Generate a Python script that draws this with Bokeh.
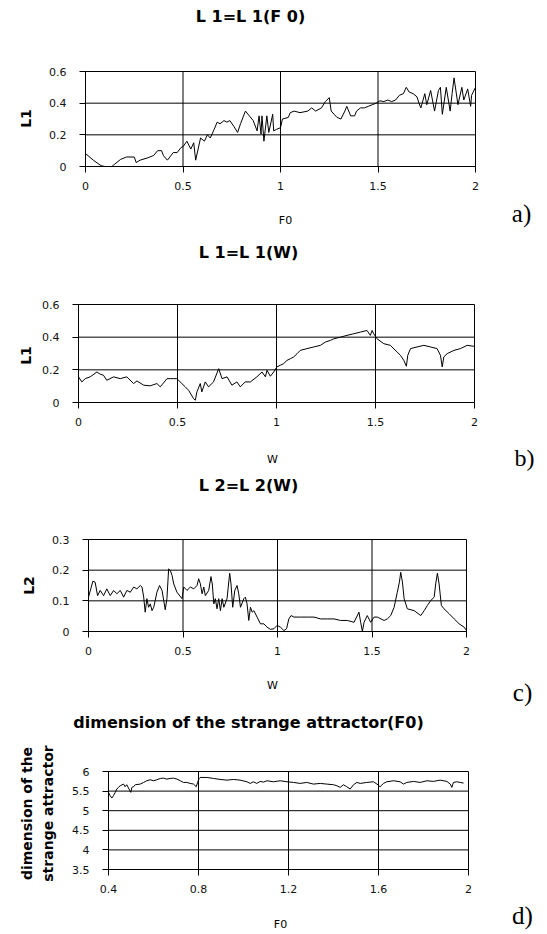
import math
from bokeh.plotting import figure
from bokeh.models import (Range1d, FixedTicker, NumeralTickFormatter, Label,
                          LinearAxis)
from bokeh.layouts import column
from bokeh.embed import file_html
from bokeh.resources import INLINE

# ---------------- data ----------------
# a) L1 = L1(F0)
a_f0 = [0.00, 0.04, 0.08, 0.10, 0.135, 0.15, 0.18, 0.21, 0.25, 0.26,
        0.28, 0.32, 0.35, 0.37, 0.39, 0.40, 0.42, 0.45, 0.47, 0.49,
        0.50, 0.52, 0.54, 0.555, 0.565, 0.59, 0.61, 0.625, 0.64, 0.66,
        0.675, 0.69, 0.71, 0.725, 0.74, 0.76, 0.78, 0.795, 0.82, 0.84,
        0.86, 0.88, 0.89, 0.90, 0.905, 0.915, 0.93, 0.94, 0.96, 0.965,
        0.98, 1.00, 1.01, 1.04, 1.05, 1.07, 1.10, 1.14, 1.16, 1.18,
        1.21, 1.23, 1.25, 1.26, 1.275, 1.29, 1.31, 1.33, 1.34, 1.36,
        1.38, 1.39, 1.41, 1.43, 1.45, 1.47, 1.49, 1.51, 1.53, 1.55,
        1.57, 1.59, 1.61, 1.63, 1.645, 1.66, 1.68, 1.70, 1.71, 1.72,
        1.74, 1.75, 1.77, 1.79, 1.81, 1.82, 1.83, 1.85, 1.87, 1.88,
        1.89, 1.91, 1.93, 1.94, 1.96, 1.975, 1.98, 2.00]
a_l1 = [0.082, 0.04, 0.005, 0.0, 0.0, 0.015, 0.045, 0.06, 0.06, 0.025,
        0.04, 0.055, 0.07, 0.10, 0.10, 0.068, 0.04, 0.088, 0.088, 0.12,
        0.125, 0.16, 0.11, 0.15, 0.04, 0.18, 0.16, 0.20, 0.18, 0.235,
        0.28, 0.27, 0.29, 0.28, 0.29, 0.255, 0.215, 0.27, 0.35, 0.32,
        0.29, 0.225, 0.32, 0.205, 0.32, 0.16, 0.32, 0.215, 0.33, 0.225,
        0.235, 0.245, 0.30, 0.31, 0.34, 0.35, 0.34, 0.35, 0.37, 0.35,
        0.37, 0.41, 0.435, 0.35, 0.33, 0.31, 0.30, 0.35, 0.38, 0.32,
        0.32, 0.35, 0.37, 0.37, 0.38, 0.39, 0.40, 0.415, 0.41, 0.42,
        0.41, 0.42, 0.45, 0.46, 0.50, 0.47, 0.46, 0.44, 0.40, 0.37,
        0.46, 0.39, 0.48, 0.35, 0.48, 0.50, 0.33, 0.50, 0.35, 0.46,
        0.56, 0.39, 0.50, 0.42, 0.49, 0.38, 0.45, 0.50]

# b) L1 = L1(W)
b_w = [0.0, 0.017, 0.034, 0.059, 0.093, 0.11, 0.126, 0.143, 0.177, 0.211,
       0.244, 0.278, 0.295, 0.329, 0.362, 0.396, 0.413, 0.447, 0.463, 0.48,
       0.497, 0.522, 0.539, 0.556, 0.581, 0.59, 0.598, 0.615, 0.623, 0.64,
       0.657, 0.682, 0.708, 0.725, 0.75, 0.775, 0.8, 0.817, 0.842, 0.868,
       0.901, 0.927, 0.944, 0.952, 0.969, 0.986, 1.002, 1.019, 1.036, 1.053,
       1.07, 1.087, 1.104, 1.12, 1.154, 1.188, 1.222, 1.247, 1.272, 1.289,
       1.323, 1.356, 1.39, 1.424, 1.457, 1.474, 1.483, 1.491, 1.508, 1.542,
       1.575, 1.609, 1.626, 1.643, 1.656, 1.663, 1.677, 1.71, 1.744, 1.778,
       1.811, 1.828, 1.837, 1.845, 1.862, 1.896, 1.929, 1.963, 1.997]
b_l1 = [0.157, 0.126, 0.146, 0.157, 0.187, 0.173, 0.167, 0.136, 0.157, 0.146,
        0.157, 0.116, 0.132, 0.106, 0.102, 0.116, 0.096, 0.146, 0.146, 0.146,
        0.146, 0.116, 0.096, 0.075, 0.024, 0.014, 0.065, 0.116, 0.065, 0.126,
        0.096, 0.126, 0.207, 0.146, 0.157, 0.106, 0.126, 0.096, 0.126, 0.126,
        0.157, 0.187, 0.157, 0.197, 0.161, 0.187, 0.218, 0.228, 0.238, 0.258,
        0.268, 0.279, 0.299, 0.319, 0.33, 0.34, 0.35, 0.37, 0.38, 0.39,
        0.40, 0.411, 0.421, 0.431, 0.441, 0.411, 0.441, 0.421, 0.39, 0.36,
        0.35, 0.309, 0.289, 0.258, 0.222, 0.289, 0.33, 0.34, 0.35, 0.34,
        0.33, 0.289, 0.218, 0.279, 0.299, 0.319, 0.33, 0.35, 0.344]

# c) L2 = L2(W)
c_w = [0.0, 0.012, 0.023, 0.035, 0.048, 0.062, 0.080, 0.097, 0.115, 0.133,
       0.150, 0.168, 0.186, 0.203, 0.221, 0.239, 0.256, 0.274, 0.283, 0.292,
       0.300, 0.309, 0.318, 0.327, 0.336, 0.345, 0.353, 0.362, 0.376, 0.389,
       0.398, 0.406, 0.415, 0.424, 0.433, 0.442, 0.451, 0.468, 0.495, 0.504,
       0.521, 0.539, 0.557, 0.574, 0.583, 0.592, 0.601, 0.610, 0.618, 0.636,
       0.648, 0.655, 0.663, 0.671, 0.680, 0.689, 0.698, 0.707, 0.716, 0.733,
       0.747, 0.754, 0.763, 0.774, 0.786, 0.795, 0.804, 0.822, 0.830, 0.839,
       0.848, 0.857, 0.866, 0.875, 0.892, 0.910, 0.928, 0.945, 0.963, 0.981,
       0.998, 1.016, 1.034, 1.048, 1.060, 1.072, 1.087, 1.122, 1.157, 1.193,
       1.228, 1.263, 1.299, 1.334, 1.369, 1.405, 1.431, 1.440, 1.449, 1.458,
       1.475, 1.493, 1.511, 1.528, 1.564, 1.581, 1.599, 1.617, 1.634, 1.645,
       1.652, 1.661, 1.670, 1.687, 1.723, 1.758, 1.776, 1.793, 1.811, 1.829,
       1.837, 1.846, 1.855, 1.867, 1.881, 1.908, 1.935, 1.961, 1.988, 2.0]
c_l2 = [0.112, 0.139, 0.164, 0.161, 0.117, 0.134, 0.117, 0.139, 0.117, 0.134,
        0.123, 0.134, 0.112, 0.134, 0.128, 0.145, 0.139, 0.150, 0.145, 0.112,
        0.063, 0.107, 0.079, 0.090, 0.068, 0.079, 0.101, 0.128, 0.150, 0.134,
        0.101, 0.071, 0.107, 0.204, 0.199, 0.183, 0.155, 0.128, 0.107, 0.145,
        0.134, 0.145, 0.139, 0.150, 0.172, 0.155, 0.123, 0.145, 0.117, 0.134,
        0.179, 0.155, 0.090, 0.107, 0.074, 0.107, 0.068, 0.107, 0.079, 0.107,
        0.190, 0.155, 0.079, 0.134, 0.150, 0.123, 0.079, 0.107, 0.112, 0.090,
        0.036, 0.079, 0.063, 0.068, 0.047, 0.025, 0.025, 0.014, 0.007, 0.009,
        0.020, 0.014, 0.003, 0.009, 0.041, 0.052, 0.047, 0.047, 0.047, 0.047,
        0.041, 0.041, 0.041, 0.036, 0.036, 0.030, 0.063, 0.030, 0.0, 0.030,
        0.052, 0.030, 0.047, 0.047, 0.036, 0.041, 0.052, 0.079, 0.128, 0.161,
        0.193, 0.161, 0.107, 0.074, 0.068, 0.052, 0.068, 0.085, 0.101, 0.112,
        0.155, 0.190, 0.155, 0.085, 0.074, 0.058, 0.041, 0.025, 0.014, 0.003]

# d) dimension of the strange attractor (F0)
d_f0 = [0.4, 0.407, 0.415, 0.422, 0.430, 0.437, 0.444, 0.452, 0.467, 0.474,
        0.481, 0.489, 0.499, 0.504, 0.511, 0.519, 0.541, 0.556, 0.570, 0.585,
        0.600, 0.615, 0.630, 0.644, 0.659, 0.674, 0.689, 0.704, 0.719, 0.733,
        0.748, 0.763, 0.778, 0.790, 0.796, 0.803, 0.807, 0.837, 0.867, 0.896,
        0.926, 0.956, 0.985, 1.015, 1.030, 1.044, 1.059, 1.074, 1.089, 1.104,
        1.133, 1.163, 1.193, 1.222, 1.252, 1.281, 1.311, 1.341, 1.370, 1.400,
        1.415, 1.430, 1.444, 1.459, 1.474, 1.489, 1.504, 1.519, 1.548, 1.578,
        1.593, 1.607, 1.622, 1.637, 1.667, 1.696, 1.711, 1.726, 1.756, 1.785,
        1.815, 1.844, 1.874, 1.904, 1.919, 1.926, 1.933, 1.948, 1.963, 1.978]
d_dim = [5.468, 5.383, 5.324, 5.383, 5.468, 5.552, 5.595, 5.637, 5.679, 5.611,
         5.662, 5.578, 5.468, 5.595, 5.611, 5.662, 5.679, 5.721, 5.764, 5.789,
         5.764, 5.789, 5.823, 5.831, 5.806, 5.823, 5.831, 5.806, 5.764, 5.721,
         5.721, 5.696, 5.679, 5.611, 5.721, 5.823, 5.848, 5.848, 5.823, 5.797,
         5.780, 5.797, 5.780, 5.738, 5.696, 5.738, 5.696, 5.747, 5.730, 5.764,
         5.738, 5.764, 5.738, 5.721, 5.696, 5.721, 5.679, 5.696, 5.679, 5.662,
         5.637, 5.595, 5.662, 5.611, 5.552, 5.662, 5.721, 5.696, 5.721, 5.738,
         5.679, 5.611, 5.696, 5.738, 5.764, 5.738, 5.679, 5.721, 5.747, 5.721,
         5.764, 5.747, 5.780, 5.747, 5.679, 5.595, 5.721, 5.738, 5.721, 5.705]

x_ticks_ab = [0, 0.5, 1, 1.5, 2]
y_ticks_a = [0, 0.2, 0.4, 0.6]
y_ticks_c = [0, 0.1, 0.2, 0.3]
x_ticks_d = [0.4, 0.8, 1.2, 1.6, 2]
y_ticks_d = [3.5, 4, 4.5, 5, 5.5, 6]

# ---------------- layout helpers ----------------
W = 547
FONT = "DejaVu Sans"


class Panel:
    """A figure whose frame covers its whole canvas; the chart box sits
    inside it at the given page pixel positions."""

    def __init__(self, top, height, box, xr, yr, xt, yt):
        self.top = top
        self.h = height
        L, R, T, B = box
        self.L, self.R, self.T, self.B = L, R, T, B
        self.xr, self.yr = xr, yr
        x0 = self.sx(0)
        x1 = self.sx(W)
        y1 = self.sy(top)
        y0 = self.sy(top + height)
        p = figure(width=W, height=height, title=None,
                   x_range=Range1d(x0, x1), y_range=Range1d(y0, y1),
                   x_axis_location=None, y_axis_location=None,
                   output_backend="svg", toolbar_location=None,
                   min_border=0)
        p.min_border_left = 0
        p.min_border_right = 0
        p.min_border_top = 0
        p.min_border_bottom = 0
        p.outline_line_color = None
        p.background_fill_color = "white"
        p.border_fill_color = "white"
        for g in p.grid:
            g.visible = False
        # grid + box
        p.segment(x0=xt, x1=xt, y0=[yr[0]] * len(xt), y1=[yr[1]] * len(xt),
                  line_color="black", line_width=1)
        p.segment(x0=[xr[0]] * len(yt), x1=[xr[1]] * len(yt), y0=yt, y1=yt,
                  line_color="black", line_width=1)
        # axes fixed at the box edges
        xa = LinearAxis(fixed_location=yr[0], bounds=xr,
                        ticker=FixedTicker(ticks=xt),
                        formatter=NumeralTickFormatter(format="0.[0]"))
        ya = LinearAxis(fixed_location=xr[0], bounds=yr,
                        ticker=FixedTicker(ticks=yt),
                        formatter=NumeralTickFormatter(format="0.[0]"))
        for ax in (xa, ya):
            ax.axis_line_color = "black"
            ax.major_tick_line_color = "black"
            ax.major_tick_out = 6
            ax.major_tick_in = 0
            ax.minor_tick_line_color = None
            ax.major_label_text_font = FONT
            ax.major_label_text_font_size = "11px"
            ax.major_label_text_color = "#111111"
        xa.major_label_standoff = 9
        ya.major_label_standoff = 13
        p.add_layout(xa, "below")
        p.add_layout(ya, "left")
        self.p = p

    def sx(self, px):
        return self.xr[0] + (px - self.L) * (self.xr[1] - self.xr[0]) / (self.R - self.L)

    def sy(self, py):
        return self.yr[1] - (py - self.T) * (self.yr[1] - self.yr[0]) / (self.B - self.T)

    def line(self, xs, ys):
        self.p.line(xs, ys, line_color="black", line_width=1)

    def text(self, px, py, txt, size, bold=False, font=FONT, angle=0.0,
             align="center"):
        self.p.add_layout(Label(x=self.sx(px), y=self.sy(py), text=txt,
                                text_font=font, text_font_size=f"{size}px",
                                text_font_style="bold" if bold else "normal",
                                angle=angle, text_align=align,
                                text_baseline="middle", text_color="black"))


# a)
A = Panel(0, 236, (85, 475, 71, 166), (0, 2), (0, 0.6), x_ticks_ab, y_ticks_a)
A.line(a_f0, a_l1)
A.text(250, 16, "L 1=L 1(F 0)", 16, bold=True)
A.text(25, 118, "L1", 14, bold=True, angle=math.pi / 2)
A.text(285, 220, "F0", 11)
A.text(521, 213, "a)", 25, font="Liberation Serif")

# b)
Bp = Panel(236, 238, (78, 474, 304, 402), (0, 2), (0, 0.6), x_ticks_ab, y_ticks_a)
Bp.line(b_w, b_l1)
Bp.text(248, 252, "L 1=L 1(W)", 16, bold=True)
Bp.text(25, 355, "L1", 14, bold=True, angle=math.pi / 2)
Bp.text(272, 459, "W", 11)
Bp.text(524, 457, "b)", 24, font="Liberation Serif")

# c)
C = Panel(474, 232, (88, 466, 539, 631), (0, 2), (0, 0.3), x_ticks_ab, y_ticks_c)
C.line(c_w, c_l2)
C.text(248, 485, "L 2=L 2(W)", 16, bold=True)
C.text(28, 585, "L2", 14, bold=True, angle=math.pi / 2)
C.text(272, 685, "W", 11)
C.text(522, 692, "c)", 25, font="Liberation Serif")

# d)
D = Panel(706, 226, (108, 468, 771, 869), (0.4, 2), (3.5, 6), x_ticks_d, y_ticks_d)
D.line(d_f0, d_dim)
D.text(248, 722, "dimension of the strange attractor(F0)", 16, bold=True)
D.text(26, 813, "dimension of the", 14, bold=True, angle=math.pi / 2)
D.text(47, 813, "strange attractor", 14, bold=True, angle=math.pi / 2)
D.text(280, 924, "F0", 11)
D.text(522, 915, "d)", 25, font="Liberation Serif")

layout = column(A.p, Bp.p, C.p, D.p, spacing=0)
open("out.html", "w").write(file_html(layout, INLINE))
